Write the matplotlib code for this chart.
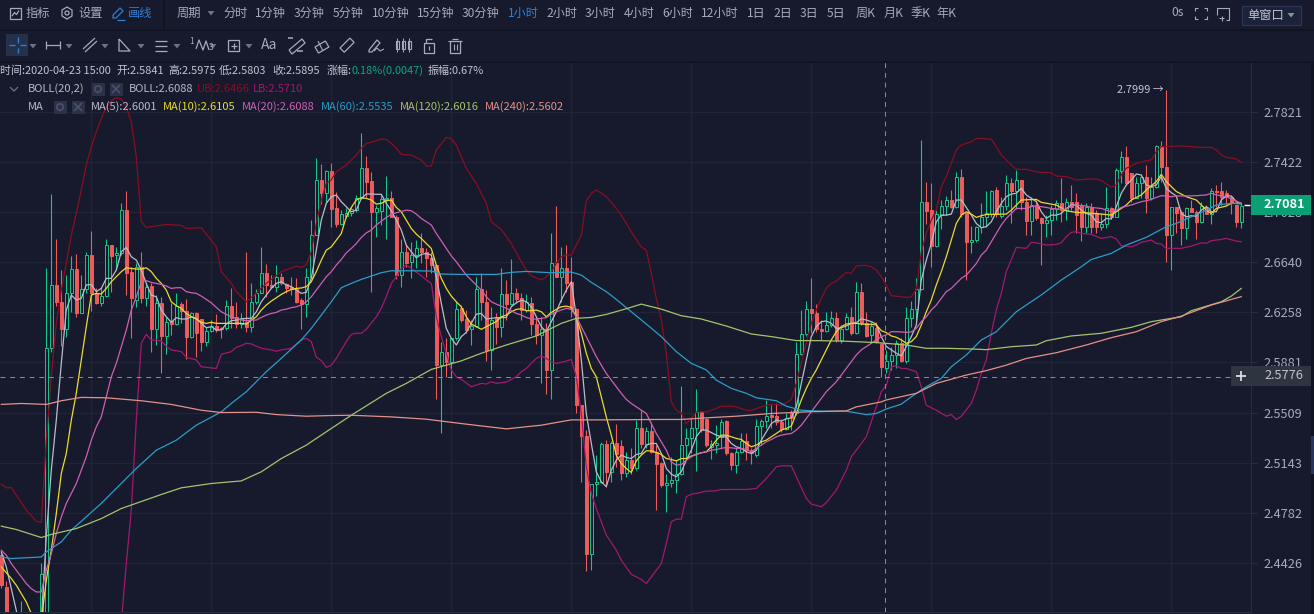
import matplotlib
matplotlib.use('Agg')
import matplotlib.pyplot as plt
from matplotlib.patches import Rectangle, Polygon, Circle

plt.rcParams['font.family'] = ['Noto Sans CJK SC', 'DejaVu Sans']

# candles, one hourly bar per entry
opens = [2.4478,2.4252,2.3900,2.3800,2.3950,2.3800,2.3700,2.3650,2.3900,2.3950,
2.5987,2.6467,2.6339,2.6130,2.6403,2.6586,2.6255,2.6433,2.6697,2.6403,
2.6331,2.6385,2.6773,2.6694,2.6709,2.7046,2.6569,2.6352,2.6607,2.6370,
2.6459,2.6132,2.6327,2.6080,2.6193,2.6170,2.6321,2.6271,2.6075,2.6255,
2.6205,2.6037,2.6117,2.6155,2.6137,2.6137,2.6309,2.6225,2.6170,2.6188,
2.6145,2.6334,2.6408,2.6556,2.6467,2.6454,2.6530,2.6471,2.6454,2.6436,
2.6352,2.6319,2.6525,2.6856,2.7283,2.7183,2.7354,2.7060,2.6937,2.7002,
2.7020,2.7046,2.7138,2.7375,2.7275,2.7033,2.7041,2.7130,2.7138,2.6994,
2.6543,2.6717,2.6645,2.6697,2.6755,2.6723,2.6671,2.6620,2.5861,2.5957,
2.5886,2.6062,2.6289,2.6208,2.6132,2.6155,2.6433,2.6339,2.5975,2.6213,
2.6150,2.6398,2.6321,2.6403,2.6365,2.6276,2.6331,2.6168,2.6087,2.6130,
2.5825,2.6632,2.6530,2.6594,2.6492,2.6281,2.5561,2.5338,2.4490,2.4984,
2.5003,2.5277,2.5076,2.5282,2.5262,2.5068,2.5165,2.5104,2.5392,2.5277,
2.5375,2.5221,2.5141,2.4980,2.4996,2.5020,2.5059,2.5270,2.5319,2.5392,
2.5514,2.5465,2.5258,2.5270,2.5331,2.5446,2.5209,2.5124,2.5221,2.5301,
2.5233,2.5197,2.5409,2.5448,2.5489,2.5482,2.5441,2.5385,2.5514,2.5502,
2.5945,2.6092,2.6281,2.6255,2.6132,2.6120,2.6163,2.6213,2.6050,2.6130,
2.6225,2.6100,2.6411,2.6175,2.6087,2.6137,2.6020,2.5841,2.5893,2.5940,
2.6030,2.5893,2.6213,2.6281,2.6433,2.7107,2.7046,2.6765,2.7007,2.7080,
2.7125,2.7067,2.7309,2.7025,2.6799,2.6817,2.6916,2.6994,2.7015,2.7204,
2.6999,2.7078,2.7257,2.7199,2.7283,2.7112,2.6963,2.7086,2.6981,2.6942,
2.6968,2.7052,2.7099,2.7046,2.7107,2.7107,2.7086,2.6911,2.7073,2.7020,
2.6916,2.6937,2.7059,2.6994,2.7356,2.7462,2.7335,2.7138,2.7257,2.7304,
2.7138,2.7225,2.7552,2.7383,2.6851,2.7067,2.7033,2.6903,2.7059,2.7033,
2.6955,2.7073,2.7015,2.7199,2.7192,2.7183,2.7151,2.7086,2.6955]
closes = [2.4267,2.4050,2.3800,2.3700,2.4050,2.3700,2.3650,2.3800,2.4343,2.5987,
2.6467,2.6339,2.6130,2.6403,2.6586,2.6255,2.6433,2.6697,2.6403,2.6331,
2.6385,2.6773,2.6689,2.6709,2.7046,2.6561,2.6370,2.6607,2.6370,2.6454,
2.6132,2.6331,2.6080,2.6188,2.6170,2.6309,2.6271,2.6075,2.6255,2.6100,
2.6037,2.6117,2.6155,2.6125,2.6130,2.6309,2.6213,2.6170,2.6213,2.6145,
2.6334,2.6408,2.6556,2.6467,2.6454,2.6530,2.6479,2.6441,2.6433,2.6339,
2.6319,2.6525,2.6856,2.7283,2.7183,2.7356,2.7057,2.6937,2.7012,2.7020,
2.7052,2.7138,2.7375,2.7269,2.7033,2.7060,2.7130,2.7138,2.6994,2.6543,
2.6717,2.6637,2.6697,2.6755,2.6723,2.6671,2.6620,2.5861,2.5957,2.5881,
2.6062,2.6281,2.6200,2.6125,2.6155,2.6433,2.6339,2.5975,2.6200,2.6150,
2.6398,2.6321,2.6403,2.6357,2.6276,2.6339,2.6168,2.6087,2.6130,2.5825,
2.6632,2.6530,2.6594,2.6484,2.6281,2.5561,2.5338,2.4490,2.4986,2.5003,
2.5277,2.5076,2.5282,2.5202,2.5068,2.5165,2.5104,2.5392,2.5277,2.5375,
2.5221,2.5136,2.4980,2.4996,2.5020,2.5059,2.5270,2.5319,2.5392,2.5514,
2.5380,2.5270,2.5277,2.5282,2.5441,2.5209,2.5124,2.5221,2.5301,2.5233,
2.5209,2.5409,2.5448,2.5485,2.5477,2.5441,2.5385,2.5470,2.5472,2.5945,
2.6092,2.6281,2.6255,2.6130,2.6120,2.6163,2.6213,2.6050,2.6130,2.6225,
2.6100,2.6411,2.6175,2.6080,2.6155,2.6037,2.5849,2.5895,2.5940,2.6030,
2.5893,2.6213,2.6281,2.6433,2.7107,2.7041,2.6765,2.7012,2.7080,2.7125,
2.7067,2.7309,2.7012,2.6799,2.6817,2.6916,2.6989,2.7020,2.7199,2.7015,
2.7078,2.7257,2.7199,2.7283,2.7112,2.6963,2.7086,2.6981,2.6942,2.6968,
2.7052,2.7099,2.7046,2.7107,2.7073,2.7007,2.6911,2.7073,2.6916,2.6916,
2.6937,2.7059,2.6994,2.7362,2.7462,2.7257,2.7138,2.7257,2.7304,2.7138,
2.7230,2.7552,2.7383,2.6851,2.7067,2.7025,2.6903,2.7059,2.7033,2.6955,
2.7078,2.7015,2.7192,2.7186,2.7151,2.7151,2.7099,2.6955,2.7081]
highs = [2.4499,2.4300,2.3950,2.3850,2.4155,2.3850,2.3750,2.3850,2.4421,2.6597,
2.7172,2.6825,2.6581,2.6543,2.6689,2.6702,2.6543,2.6723,2.6883,2.6441,
2.6441,2.6820,2.6773,2.6760,2.7104,2.7196,2.6607,2.6632,2.6717,2.6479,
2.6479,2.6390,2.6377,2.6225,2.6327,2.6403,2.6339,2.6357,2.6263,2.6263,
2.6208,2.6150,2.6200,2.6245,2.6150,2.6352,2.6441,2.6339,2.6255,2.6723,
2.6479,2.6433,2.6760,2.6625,2.6543,2.6620,2.6561,2.6479,2.6525,2.6518,
2.6365,2.6594,2.6968,2.7454,2.7406,2.7362,2.7419,2.7191,2.7046,2.7060,
2.7073,2.7164,2.7652,2.7472,2.7348,2.7086,2.7164,2.7314,2.7196,2.7007,
2.6820,2.6786,2.6799,2.6812,2.6864,2.6748,2.6723,2.6620,2.6037,2.6062,
2.6062,2.6339,2.6314,2.6276,2.6200,2.6525,2.6556,2.6428,2.6301,2.6250,
2.6594,2.6505,2.6666,2.6446,2.6403,2.6395,2.6377,2.6213,2.6225,2.6175,
2.6864,2.7078,2.6760,2.6773,2.6684,2.6289,2.5563,2.5380,2.4991,2.5197,
2.5294,2.5311,2.5301,2.5424,2.5306,2.5221,2.5246,2.5453,2.5531,2.5404,
2.5441,2.5270,2.5148,2.5063,2.5185,2.5160,2.5705,2.5392,2.5477,2.5680,
2.5519,2.5472,2.5306,2.5416,2.5465,2.5453,2.5221,2.5246,2.5355,2.5355,
2.5246,2.5465,2.5465,2.5601,2.5563,2.5576,2.5465,2.5502,2.5526,2.6037,
2.6276,2.6345,2.6522,2.6319,2.6200,2.6263,2.6271,2.6263,2.6163,2.6250,
2.6301,2.6492,2.6479,2.6263,2.6188,2.6188,2.6037,2.5975,2.5995,2.6050,
2.6062,2.6296,2.6347,2.6518,2.7599,2.7264,2.7256,2.7046,2.7125,2.7157,
2.7204,2.7348,2.7367,2.7033,2.6922,2.6922,2.7099,2.7192,2.7204,2.7230,
2.7151,2.7322,2.7296,2.7362,2.7283,2.7151,2.7151,2.7125,2.6994,2.7007,
2.7086,2.7125,2.7296,2.7138,2.7243,2.7183,2.7099,2.7099,2.7099,2.7046,
2.7020,2.7230,2.7073,2.7375,2.7512,2.7552,2.7335,2.7309,2.7314,2.7401,
2.7309,2.7560,2.7595,2.7999,2.7073,2.7073,2.7046,2.7073,2.7125,2.7046,
2.7107,2.7086,2.7217,2.7243,2.7270,2.7204,2.7157,2.7086,2.7099]
lows = [2.4245,2.4000,2.3700,2.3650,2.3900,2.3650,2.3600,2.3600,2.3850,2.3900,
2.5960,2.6306,2.6005,2.6075,2.6263,2.6225,2.6255,2.6403,2.6271,2.6321,
2.6306,2.6377,2.6416,2.6581,2.6697,2.6390,2.6062,2.6301,2.6327,2.6306,
2.5957,2.6012,2.5804,2.5945,2.6087,2.6163,2.6175,2.5905,2.6062,2.5920,
2.5970,2.6005,2.6110,2.6112,2.6062,2.6125,2.6137,2.6137,2.6137,2.6112,
2.6112,2.6321,2.6403,2.6377,2.6446,2.6416,2.6467,2.6403,2.6390,2.6331,
2.6130,2.6225,2.6518,2.6851,2.7093,2.7104,2.6911,2.6911,2.6930,2.6981,
2.7000,2.7033,2.7130,2.7151,2.6416,2.6833,2.6930,2.6825,2.6994,2.6510,
2.6454,2.6607,2.6522,2.6594,2.6632,2.6525,2.6556,2.5606,2.5355,2.5774,
2.5762,2.6050,2.6188,2.6100,2.6012,2.6150,2.6200,2.5895,2.5825,2.6020,
2.6075,2.6200,2.6314,2.6331,2.6200,2.6263,2.6087,2.6020,2.5725,2.5645,
2.5606,2.6525,2.6339,2.6416,2.6225,2.5507,2.5003,2.4367,2.4377,2.4900,
2.4996,2.4968,2.5003,2.5112,2.5020,2.5035,2.5059,2.5092,2.5246,2.5246,
2.5209,2.4803,2.4963,2.4787,2.4963,2.4924,2.5051,2.5172,2.5209,2.5083,
2.5367,2.5258,2.5172,2.5209,2.5246,2.5197,2.5088,2.5068,2.5209,2.5160,
2.5131,2.5180,2.5270,2.5392,2.5392,2.5416,2.5367,2.5380,2.5380,2.5489,
2.5937,2.6080,2.6100,2.6112,2.6050,2.6112,2.6150,2.6037,2.6030,2.6125,
2.6087,2.6095,2.6163,2.6075,2.6025,2.6025,2.5769,2.5803,2.5825,2.5836,
2.5886,2.5878,2.6150,2.6200,2.6428,2.6937,2.6607,2.6760,2.6896,2.7007,
2.7060,2.7060,2.6994,2.6505,2.6714,2.6799,2.6864,2.6917,2.6994,2.6994,
2.6981,2.7046,2.6942,2.7052,2.7046,2.6851,2.6851,2.6968,2.6620,2.6838,
2.6851,2.6968,2.6955,2.6968,2.7046,2.6864,2.6805,2.6864,2.6864,2.6864,
2.6890,2.6903,2.6994,2.6994,2.7257,2.7243,2.7112,2.7138,2.7138,2.7020,
2.7125,2.7217,2.7270,2.6640,2.6581,2.6864,2.6774,2.6825,2.7033,2.6820,
2.6942,2.7015,2.6937,2.7073,2.7086,2.7086,2.7015,2.6911,2.6908]

# bollinger bands and moving averages, read at the bars listed in *_idx
ub_idx = [0,1,2,5,7,8,9,10,11,12,13,14,15,16,17,18,19,20,21,22,23,24,25,26,27,28,29,33,36,37,40,43,44,46,47,49,51,53,56,59,60,61,62,63,64,65,66,67,69,71,72,73,75,76,77,78,79,80,82,84,85,86,87,89,90,91,92,93,95,97,98,100,102,104,105,106,108,109,110,111,112,113,114,115,116,117,118,119,121,123,124,126,128,129,130,131,132,133,134,135,136,137,138,139,141,143,144,146,147,149,150,152,154,156,157,158,159,160,161,162,163,164,165,166,167,168,169,170,171,172,173,174,175,176,177,178,180,181,182,183,184,185,186,187,188,189,190,191,192,193,194,195,196,197,198,199,200,201,202,203,205,207,208,209,210,211,213,215,217,219,220,222,223,224,225,227,229,230,231,232,236,240,242,243,244,245,247,248]
ub_val = [2.4986,2.4960,2.4962,2.4799,2.4720,2.4711,2.5306,2.5774,2.6175,2.6428,2.6632,2.6851,2.7020,2.7204,2.7401,2.7546,2.7665,2.7770,2.7863,2.7916,2.7939,2.7929,2.7863,2.7744,2.7467,2.6955,2.6911,2.6934,2.6927,2.6903,2.6909,2.6760,2.6569,2.6479,2.6416,2.6339,2.6403,2.6479,2.6569,2.6612,2.6602,2.6620,2.6723,2.6942,2.7125,2.7256,2.7283,2.7348,2.7401,2.7480,2.7533,2.7572,2.7594,2.7607,2.7604,2.7572,2.7533,2.7485,2.7480,2.7440,2.7393,2.7393,2.7520,2.7620,2.7612,2.7559,2.7467,2.7375,2.7256,2.7099,2.6955,2.6895,2.6786,2.6645,2.6581,2.6538,2.6505,2.6530,2.6569,2.6632,2.6684,2.6697,2.6697,2.6773,2.6851,2.7117,2.7177,2.7204,2.7151,2.7060,2.7007,2.6877,2.6760,2.6735,2.6556,2.6365,2.6200,2.5950,2.5588,2.5526,2.5507,2.5428,2.5465,2.5514,2.5514,2.5539,2.5556,2.5556,2.5551,2.5526,2.5524,2.5551,2.5571,2.5563,2.5581,2.5606,2.5725,2.5874,2.6025,2.6175,2.6276,2.6365,2.6441,2.6479,2.6497,2.6530,2.6564,2.6556,2.6612,2.6617,2.6617,2.6607,2.6581,2.6530,2.6466,2.6385,2.6377,2.6372,2.6377,2.6433,2.6723,2.6864,2.6968,2.7046,2.7230,2.7309,2.7414,2.7520,2.7559,2.7572,2.7586,2.7612,2.7612,2.7608,2.7606,2.7547,2.7481,2.7441,2.7401,2.7367,2.7367,2.7348,2.7343,2.7343,2.7340,2.7314,2.7309,2.7283,2.7288,2.7291,2.7278,2.7225,2.7243,2.7322,2.7375,2.7414,2.7435,2.7441,2.7507,2.7547,2.7552,2.7541,2.7541,2.7520,2.7481,2.7462,2.7449,2.7422]
lb_idx = [24,25,26,27,28,29,30,32,33,34,36,37,39,40,43,44,46,47,48,49,50,52,54,55,56,58,60,61,62,63,64,65,66,67,69,70,71,72,73,75,76,77,78,79,80,81,82,84,85,86,87,88,89,90,91,92,94,96,97,98,99,101,103,104,105,106,107,108,109,110,111,113,114,115,116,117,118,119,120,121,123,124,126,128,129,131,132,133,134,135,136,137,138,139,141,143,144,149,151,152,153,155,156,158,159,161,162,164,165,167,169,170,171,173,174,175,176,177,178,179,180,181,183,184,185,187,189,190,191,192,194,195,196,197,198,199,200,201,203,205,206,207,209,211,212,213,214,215,216,218,220,222,223,224,226,227,228,230,231,232,233,236,238,240,241,242,244,245,247,248]
lb_val = [2.4000,2.4419,2.4799,2.5453,2.6025,2.6092,2.6050,2.6042,2.6000,2.5975,2.5962,2.5920,2.5900,2.5849,2.5836,2.5942,2.5962,2.5995,2.6007,2.6025,2.6020,2.5987,2.5975,2.5965,2.5975,2.5987,2.6050,2.6062,2.6037,2.5920,2.5895,2.5844,2.5861,2.5912,2.6037,2.6092,2.6100,2.6100,2.6130,2.6225,2.6289,2.6377,2.6479,2.6530,2.6594,2.6620,2.6594,2.6538,2.6505,2.6479,2.6225,2.6075,2.5950,2.5825,2.5774,2.5755,2.5700,2.5725,2.5720,2.5737,2.5725,2.5735,2.5774,2.5812,2.5836,2.5874,2.5912,2.5930,2.5910,2.5886,2.5874,2.5891,2.5904,2.5774,2.5502,2.5112,2.4920,2.4811,2.4716,2.4621,2.4514,2.4443,2.4344,2.4307,2.4279,2.4372,2.4419,2.4561,2.4716,2.4735,2.4735,2.4896,2.4914,2.4920,2.4936,2.4939,2.4948,2.4948,2.4955,2.4991,2.5027,2.5112,2.5119,2.5119,2.5040,2.4884,2.4843,2.4824,2.4853,2.4943,2.5088,2.5185,2.5233,2.5331,2.5441,2.5551,2.5663,2.5710,2.5849,2.5856,2.5836,2.5836,2.5812,2.5700,2.5563,2.5526,2.5482,2.5494,2.5458,2.5482,2.5576,2.5675,2.5799,2.5900,2.6100,2.6276,2.6403,2.6569,2.6756,2.6749,2.6795,2.6792,2.6774,2.6779,2.6792,2.6839,2.6873,2.6878,2.6865,2.6857,2.6826,2.6839,2.6821,2.6769,2.6761,2.6774,2.6795,2.6813,2.6787,2.6782,2.6749,2.6749,2.6766,2.6792,2.6787,2.6808,2.6818,2.6826,2.6805,2.6800]
ma5_idx = [0,1,3,4,5,6,7,8,9,10,11,12,13,14,15,16,17,18,19,20,21,22,23,24,25,26,27,28,29,30,31,32,33,34,35,36,37,38,39,40,41,42,43,44,45,46,47,48,49,50,51,52,53,54,55,56,57,58,59,60,61,62,63,64,65,66,67,68,69,70,71,72,73,74,75,76,77,78,79,80,81,82,83,84,85,86,87,88,89,90,91,92,93,94,95,96,97,98,99,100,101,102,103,104,105,106,107,108,109,110,111,112,113,114,115,116,117,118,119,120,121,122,123,124,125,126,127,128,129,130,131,132,133,134,135,136,137,138,139,140,141,142,143,144,145,146,147,148,149,150,151,152,153,154,155,156,157,158,159,160,161,162,163,164,165,166,167,168,169,170,171,172,173,174,175,176,177,178,179,180,181,182,183,184,185,186,187,188,189,190,191,192,193,194,195,196,197,198,199,200,201,202,203,204,205,206,207,208,209,210,211,212,213,214,215,216,217,218,219,220,221,222,223,224,225,226,227,228,229,230,231,232,233,234,235,236,237,238,239,240,241,242,243,244,245,246,247,248]
ma5_val = [2.4502,2.4396,2.4091,2.3880,2.3694,2.3600,2.3647,2.4021,2.4609,2.5088,2.5453,2.5874,2.6276,2.6390,2.6352,2.6365,2.6467,2.6471,2.6416,2.6441,2.6518,2.6518,2.6581,2.6723,2.6755,2.6684,2.6658,2.6581,2.6479,2.6390,2.6377,2.6276,2.6225,2.6183,2.6218,2.6208,2.6208,2.6225,2.6213,2.6175,2.6142,2.6150,2.6125,2.6125,2.6170,2.6195,2.6200,2.6208,2.6213,2.6213,2.6263,2.6339,2.6390,2.6441,2.6479,2.6492,2.6467,2.6454,2.6428,2.6403,2.6411,2.6518,2.6735,2.6968,2.7099,2.7151,2.7164,2.7112,2.7073,2.7033,2.7046,2.7138,2.7172,2.7172,2.7170,2.7170,2.7099,2.7041,2.6968,2.6890,2.6773,2.6723,2.6676,2.6702,2.6709,2.6697,2.6530,2.6327,2.6137,2.6062,2.6012,2.6075,2.6107,2.6175,2.6245,2.6250,2.6208,2.6213,2.6218,2.6218,2.6220,2.6301,2.6331,2.6352,2.6339,2.6301,2.6225,2.6150,2.6112,2.6188,2.6263,2.6352,2.6428,2.6492,2.6225,2.5900,2.5502,2.5282,2.5076,2.5003,2.4968,2.5088,2.5160,2.5197,2.5180,2.5172,2.5202,2.5209,2.5270,2.5282,2.5282,2.5209,2.5100,2.5059,2.5040,2.5076,2.5160,2.5233,2.5331,2.5380,2.5380,2.5362,2.5343,2.5331,2.5331,2.5282,2.5258,2.5246,2.5221,2.5209,2.5233,2.5306,2.5367,2.5428,2.5453,2.5446,2.5463,2.5470,2.5551,2.5725,2.5900,2.6075,2.6150,2.6188,2.6193,2.6175,2.6137,2.6142,2.6155,2.6175,2.6180,2.6210,2.6200,2.6188,2.6170,2.6075,2.6001,2.5975,2.5950,2.5930,2.6000,2.6075,2.6163,2.6505,2.6658,2.6786,2.6955,2.7007,2.7007,2.7015,2.7125,2.7125,2.7067,2.7007,2.6942,2.6909,2.6917,2.6955,2.7033,2.7099,2.7151,2.7172,2.7178,2.7217,2.7165,2.7138,2.7112,2.7033,2.6981,2.7007,2.7007,2.7020,2.7059,2.7086,2.7086,2.7046,2.7020,2.7007,2.6955,2.6948,2.6981,2.6976,2.7073,2.7178,2.7243,2.7283,2.7330,2.7322,2.7243,2.7230,2.7243,2.7309,2.7217,2.7183,2.7157,2.7020,2.6994,2.7002,2.6999,2.7046,2.7073,2.7033,2.7033,2.7125,2.7157,2.7157,2.7112,2.7094]
ma10_idx = [0,2,3,5,6,7,8,9,10,11,12,13,14,15,16,17,18,19,20,21,22,23,24,25,26,27,28,29,30,31,32,33,34,35,36,37,38,39,40,41,42,43,47,48,49,50,51,52,53,54,55,56,57,58,59,60,61,62,63,64,65,66,68,69,70,71,72,73,74,75,76,77,78,79,80,81,82,83,84,85,86,87,88,89,90,91,92,93,94,95,96,97,98,99,100,101,102,103,104,105,106,107,108,109,110,111,112,113,114,115,116,117,118,119,120,121,122,123,124,125,126,127,128,129,130,131,132,133,134,135,136,137,138,139,140,141,142,143,144,145,146,147,148,149,150,151,152,153,154,155,156,157,158,159,160,161,162,163,164,165,166,167,168,169,170,171,172,173,174,175,176,177,178,179,180,181,182,183,184,185,186,187,188,189,190,191,192,193,194,195,196,197,201,202,203,204,207,208,211,213,215,217,220,222,223,225,226,228,229,231,232,233,235,237,239,241,242,243,245,246,248]
ma10_val = [2.4396,2.4314,2.4267,2.4150,2.4068,2.3998,2.4021,2.4302,2.4514,2.4775,2.5064,2.5209,2.5453,2.5651,2.5900,2.6150,2.6390,2.6403,2.6398,2.6441,2.6492,2.6530,2.6569,2.6599,2.6594,2.6589,2.6589,2.6599,2.6569,2.6518,2.6479,2.6428,2.6339,2.6309,2.6289,2.6250,2.6225,2.6208,2.6183,2.6175,2.6183,2.6175,2.6175,2.6175,2.6170,2.6200,2.6225,2.6276,2.6314,2.6344,2.6370,2.6395,2.6416,2.6433,2.6441,2.6444,2.6454,2.6492,2.6569,2.6658,2.6735,2.6760,2.6864,2.6994,2.7067,2.7125,2.7143,2.7138,2.7125,2.7093,2.7099,2.7120,2.7125,2.7067,2.7033,2.6968,2.6903,2.6859,2.6825,2.6786,2.6748,2.6620,2.6518,2.6441,2.6382,2.6339,2.6301,2.6225,2.6170,2.6150,2.6130,2.6150,2.6170,2.6188,2.6225,2.6238,2.6263,2.6281,2.6286,2.6271,2.6271,2.6276,2.6263,2.6225,2.6258,2.6281,2.6301,2.6306,2.6296,2.6225,2.6100,2.5950,2.5836,2.5774,2.5625,2.5477,2.5343,2.5197,2.5136,2.5100,2.5071,2.5155,2.5197,2.5228,2.5228,2.5216,2.5202,2.5172,2.5165,2.5155,2.5172,2.5172,2.5190,2.5202,2.5214,2.5221,2.5258,2.5306,2.5343,2.5343,2.5331,2.5319,2.5311,2.5282,2.5258,2.5270,2.5294,2.5306,2.5331,2.5355,2.5380,2.5392,2.5409,2.5502,2.5601,2.5688,2.5762,2.5825,2.5900,2.5975,2.6050,2.6112,2.6150,2.6170,2.6175,2.6175,2.6170,2.6168,2.6168,2.6163,2.6120,2.6105,2.6080,2.6070,2.6050,2.6025,2.6037,2.6075,2.6163,2.6263,2.6352,2.6467,2.6569,2.6684,2.6812,2.6942,2.7007,2.7033,2.7015,2.6989,2.7002,2.7012,2.7015,2.7046,2.7086,2.7125,2.7130,2.7107,2.7086,2.7041,2.7028,2.7025,2.7015,2.7007,2.7033,2.7086,2.7125,2.7165,2.7204,2.7270,2.7327,2.7270,2.7192,2.7151,2.7125,2.7046,2.7020,2.7059,2.7078,2.7099,2.7099]
ma20_idx = [0,1,2,3,4,5,6,7,8,9,10,11,12,13,14,15,16,17,18,19,20,21,22,23,24,25,26,27,28,29,30,31,32,33,34,35,36,37,38,39,40,41,42,43,44,45,46,47,48,49,50,51,52,53,54,55,56,57,58,59,60,61,62,63,64,65,66,67,68,69,70,71,72,73,74,75,76,77,78,79,80,81,82,83,84,85,86,87,88,89,90,91,92,93,94,95,96,97,98,99,100,101,102,103,104,105,106,107,108,109,110,111,112,113,114,115,116,117,118,119,120,121,122,123,124,125,126,127,128,129,130,131,132,133,134,135,136,137,138,139,140,141,142,143,144,145,146,147,148,149,150,151,152,153,154,155,156,157,158,159,160,161,162,163,164,165,166,167,168,169,170,171,172,173,174,175,176,177,178,179,180,181,182,183,184,185,186,187,188,189,190,191,192,193,194,195,196,197,198,199,200,201,202,203,205,206,207,208,209,210,212,213,214,215,216,217,218,220,222,223,224,226,227,228,229,230,231,232,233,234,235,237,239,241,242,243,245,247,248]
ma20_val = [2.4514,2.4478,2.4419,2.4372,2.4325,2.4279,2.4243,2.4220,2.4220,2.4372,2.4490,2.4633,2.4751,2.4848,2.4920,2.4991,2.5088,2.5185,2.5306,2.5404,2.5477,2.5625,2.5774,2.5874,2.6000,2.6125,2.6276,2.6377,2.6492,2.6500,2.6487,2.6479,2.6471,2.6459,2.6441,2.6446,2.6446,2.6416,2.6408,2.6403,2.6382,2.6357,2.6331,2.6296,2.6263,2.6243,2.6225,2.6213,2.6200,2.6195,2.6200,2.6200,2.6220,2.6238,2.6250,2.6258,2.6276,2.6283,2.6294,2.6301,2.6314,2.6339,2.6377,2.6428,2.6479,2.6530,2.6569,2.6620,2.6663,2.6714,2.6748,2.6786,2.6833,2.6869,2.6890,2.6930,2.6960,2.6989,2.7012,2.7025,2.7036,2.7046,2.7041,2.7015,2.6981,2.6955,2.6930,2.6864,2.6807,2.6748,2.6691,2.6645,2.6594,2.6543,2.6505,2.6467,2.6428,2.6377,2.6339,2.6321,2.6306,2.6289,2.6271,2.6250,2.6238,2.6220,2.6208,2.6208,2.6213,2.6218,2.6245,2.6263,2.6276,2.6289,2.6281,2.6225,2.6150,2.6075,2.6000,2.5925,2.5861,2.5799,2.5749,2.5700,2.5651,2.5606,2.5576,2.5551,2.5526,2.5502,2.5428,2.5355,2.5294,2.5233,2.5148,2.5124,2.5129,2.5160,2.5185,2.5204,2.5214,2.5221,2.5233,2.5238,2.5246,2.5253,2.5250,2.5246,2.5246,2.5238,2.5221,2.5246,2.5270,2.5294,2.5311,2.5331,2.5343,2.5350,2.5355,2.5380,2.5416,2.5465,2.5514,2.5563,2.5613,2.5663,2.5700,2.5737,2.5787,2.5836,2.5886,2.5937,2.5975,2.6000,2.6025,2.6050,2.6075,2.6088,2.6112,2.6112,2.6110,2.6107,2.6110,2.6137,2.6188,2.6225,2.6276,2.6314,2.6365,2.6416,2.6441,2.6479,2.6518,2.6543,2.6586,2.6632,2.6697,2.6735,2.6800,2.6865,2.6930,2.6981,2.7020,2.7059,2.7059,2.7073,2.7078,2.7073,2.7067,2.7059,2.7052,2.7052,2.7078,2.7086,2.7081,2.7078,2.7067,2.7059,2.7033,2.7046,2.7067,2.7086,2.7099,2.7112,2.7120,2.7130,2.7146,2.7159,2.7157,2.7151,2.7157,2.7157,2.7159,2.7165,2.7178,2.7165,2.7151,2.7117,2.7099]
ma60_idx = [0,2,8,9,12,14,20,27,31,35,39,44,46,49,53,56,60,62,66,68,70,72,76,78,82,86,88,92,99,102,105,110,114,116,118,121,123,126,129,132,135,138,141,143,146,149,151,155,157,160,164,169,173,175,177,180,182,185,188,190,193,196,197,199,203,208,212,216,218,222,225,229,233,235,238,241,243,246,248]
ma60_val = [2.4466,2.4455,2.4466,2.4502,2.4573,2.4656,2.4848,2.5100,2.5233,2.5306,2.5416,2.5514,2.5576,2.5663,2.5812,2.5912,2.6050,2.6137,2.6339,2.6446,2.6479,2.6510,2.6561,2.6576,2.6576,2.6574,2.6551,2.6548,2.6548,2.6564,2.6571,2.6561,2.6566,2.6543,2.6487,2.6416,2.6357,2.6263,2.6170,2.6075,2.5962,2.5874,2.5825,2.5749,2.5688,2.5651,2.5618,2.5596,2.5556,2.5526,2.5519,2.5519,2.5494,2.5502,2.5535,2.5571,2.5625,2.5700,2.5762,2.5849,2.5937,2.6050,2.6070,2.6112,2.6263,2.6391,2.6505,2.6607,2.6663,2.6710,2.6774,2.6834,2.6917,2.6942,2.6994,2.7046,2.7086,2.7099,2.7094]
ma120_idx = [0,3,8,10,15,20,24,32,36,42,48,52,56,61,66,70,77,81,86,92,96,101,107,112,115,118,121,125,128,132,136,140,145,150,154,159,163,169,175,181,185,189,194,197,202,207,209,214,220,226,230,236,238,244,246,248]
ma120_val = [2.4685,2.4661,2.4604,2.4626,2.4668,2.4739,2.4811,2.4912,2.4960,2.4991,2.5010,2.5076,2.5172,2.5270,2.5392,2.5489,2.5651,2.5725,2.5829,2.5893,2.5950,2.6012,2.6080,2.6175,2.6213,2.6220,2.6243,2.6286,2.6321,2.6283,2.6233,2.6208,2.6155,2.6095,2.6075,2.6045,2.6045,2.6040,2.6030,2.6012,2.5987,2.5987,2.5982,2.5977,2.5999,2.6012,2.6044,2.6080,2.6100,2.6145,2.6188,2.6225,2.6271,2.6339,2.6382,2.6441]
ma240_idx = [0,4,9,12,16,21,28,34,40,44,51,55,61,66,70,78,85,92,101,108,114,119,132,136,141,147,154,161,169,171,176,177,183,187,193,197,201,205,211,217,222,227,232,236,242,248]
ma240_val = [2.5569,2.5576,2.5569,2.5596,2.5621,2.5618,2.5596,2.5569,2.5526,2.5509,2.5511,2.5494,2.5482,2.5487,2.5489,2.5477,2.5460,2.5428,2.5389,2.5416,2.5455,2.5455,2.5458,2.5458,2.5470,2.5482,2.5502,2.5514,2.5521,2.5551,2.5588,2.5602,2.5651,2.5725,2.5787,2.5820,2.5861,2.5911,2.5954,2.6012,2.6067,2.6112,2.6188,2.6230,2.6314,2.6378]

price_ticks = [2.7821, 2.7422, 2.7028, 2.6640, 2.6258, 2.5881, 2.5509, 2.5143, 2.4782, 2.4426]
grid_bars = [18, 42, 66, 90, 114, 138, 162, 186, 210, 234]
cross_bar = 176.8
cross_price = 2.5776
last_price = 2.7081
peak_price = 2.7999

periods = ['分时', '1分钟', '3分钟', '5分钟', '10分钟', '15分钟', '30分钟', '1小时', '2小时', '3小时', '4小时', '6小时',
           '12小时', '1日', '2日', '3日', '5日', '周K', '月K', '季K', '年K']
period_x = [223, 255, 294, 333, 372, 417, 462, 508, 546, 585, 624, 662, 701, 747, 773, 800, 827, 856, 884, 911, 936]

BG = '#161a2c'
DARK = '#0f1220'
LINE = '#262c42'
GRID = '#1f2438'
TEXT = '#a5aabf'
BLUE = '#2f7fd6'
UP = '#10c88a'
DOWN = '#ef5b5b'
UB_C, LB_C = '#8b0d22', '#a3186f'
MA_C = ['#b9bccb', '#eadb2c', '#cf5fb4', '#2b9dc9', '#a3c46c', '#e5908a']

W, H = 1314, 614
fig = plt.figure(figsize=(W / 100, H / 100), dpi=100, facecolor=BG)

# price panel
ax = fig.add_axes([0, 1 - 612 / H, 1251.3 / W, 550 / H], facecolor=BG, zorder=1)
ax.set_yscale('log')
ax.set_xlim(-0.26, 250)
ax.set_ylim(2.4080, 2.8229)
ax.set_yticks(price_ticks)
ax.set_yticklabels([f'{p:.4f}' for p in price_ticks])
ax.minorticks_off()
ax.yaxis.tick_right()
ax.tick_params(axis='y', length=4.3, width=0.8, color=LINE, labelcolor=TEXT, labelsize=9.2, pad=4.5)
ax.set_xticks(grid_bars)
ax.tick_params(axis='x', length=0, labelbottom=False)
ax.grid(True, color=GRID, lw=0.9)
ax.set_axisbelow(True)
for s in ['top', 'left']:
    ax.spines[s].set_visible(False)
ax.spines['right'].set_color(LINE)
ax.spines['bottom'].set_color(LINE)

bars = list(range(len(opens)))
colors = [UP if c >= o else DOWN for o, c in zip(opens, closes)]
ax.vlines(bars, lows, highs, colors=colors, lw=0.8, zorder=2)
tops = [max(o, c) for o, c in zip(opens, closes)]
bots = [min(o, c) for o, c in zip(opens, closes)]
faces = [BG if c >= o else DOWN for o, c in zip(opens, closes)]
ax.bar(bars, [t - b for t, b in zip(tops, bots)], bottom=bots, width=0.5,
       facecolor=faces, edgecolor=colors, lw=0.7, zorder=3)

ax.plot(ub_idx, ub_val, color=UB_C, lw=0.9, zorder=4)
ax.plot(lb_idx, lb_val, color=LB_C, lw=0.9, zorder=4)
for idx, val, col in zip([ma5_idx, ma10_idx, ma20_idx, ma60_idx, ma120_idx, ma240_idx],
                         [ma5_val, ma10_val, ma20_val, ma60_val, ma120_val, ma240_val], MA_C):
    ax.plot(idx, val, color=col, lw=0.9, zorder=5)

ax.axvline(cross_bar, color='#8a8fa3', lw=0.7, dashes=(5, 5), zorder=6)
ax.axhline(cross_price, color='#8a8fa3', lw=0.7, dashes=(5, 5), zorder=6)
ax.annotate(f'{peak_price:.4f} →', (233, peak_price), xytext=(-2, 0), textcoords='offset points',
            ha='right', va='center', color='#c3c7d6', fontsize=7.8, zorder=7)

# toolbars and overlays, drawn in pixel coordinates
ui = fig.add_axes([0, 0, 1, 1], zorder=2)
ui.set_xlim(0, W)
ui.set_ylim(H, 0)
ui.axis('off')
ui.patch.set_alpha(0)


def rect(x0, y0, x1, y1, fc, ec='none', lw=0.0, z=1):
    ui.add_patch(Rectangle((x0, y0), x1 - x0, y1 - y0, fc=fc, ec=ec, lw=lw, zorder=z))


def seg(xs, ys, col=TEXT, lw=0.9, z=3):
    ui.plot(xs, ys, color=col, lw=lw, zorder=z, solid_capstyle='butt')


def txt(x, y, s, col=TEXT, size=8.8, **kw):
    ui.text(x, y, s, color=col, fontsize=size, va='center', ha=kw.pop('ha', 'left'), zorder=4, **kw)


def tri(x, y, col='#6d7388'):
    ui.add_patch(Polygon([(x - 3.5, y - 2), (x + 3.5, y - 2), (x, y + 2.5)], fc=col, ec='none', zorder=3))


rect(0, 0, W, 61, BG)
seg([0, W], [29.5, 29.5], DARK, 1.2)
seg([0, W], [61.5, 61.5], DARK, 1.2)
seg([163.5, 163.5], [0, 29], DARK, 1.2)
rect(1311, 62, W, H, DARK)
rect(1311, 436, W, 474, '#2a3358')

# first row
rect(10, 8, 21, 19, 'none', TEXT, 0.9)
seg([12, 14.5, 16.5, 19], [16, 12.5, 14.5, 10.5])
txt(26, 13, '指标')
ui.add_patch(Polygon([(67, 7), (72, 10), (72, 16), (67, 19), (62, 16), (62, 10)], fc='none', ec=TEXT, lw=0.9, zorder=3))
ui.add_patch(Circle((67, 13), 2, fc='none', ec=TEXT, lw=0.9, zorder=3))
txt(78, 13, '设置')
seg([113, 120, 123, 116, 113, 113], [15, 8, 11, 18, 18, 15], BLUE)
seg([117, 125], [20, 20], BLUE)
txt(128, 13, '画线', BLUE)
txt(177, 13, '周期')
tri(211, 13)
for x, label in zip(period_x, periods):
    txt(x, 13, label, BLUE if label == '1小时' else TEXT, 8.7)
txt(1171, 13, '0s', size=8.7)
for x0, y0, dx, dy in [(1195, 8, 1, 1), (1207, 8, -1, 1), (1195, 19, 1, -1), (1207, 19, -1, -1)]:
    seg([x0, x0, x0 + 3 * dx], [y0 + 3 * dy, y0, y0], lw=0.8)
seg([1217, 1217, 1229, 1229, 1226], [15, 8, 8, 20, 20], lw=0.8)
seg([1219, 1224], [18, 18], lw=0.8)
seg([1221.5, 1221.5], [15.5, 20.5], lw=0.8)
rect(1241.5, 5.5, 1300.5, 24.5, '#1c2238', '#2c3555', 0.9)
txt(1247, 15, '单窗口', '#c0c4d2', 8.8)
tri(1291, 15, '#8a90a5')

# second row
rect(6, 34, 28, 56, '#25304a')
seg([9, 15], [45, 45], BLUE, 1.0)
seg([20, 26], [45, 45], BLUE, 1.0)
seg([17.5, 17.5], [37, 42.5], BLUE, 1.0)
seg([17.5, 17.5], [47.5, 53], BLUE, 1.0)
for x in [33, 69, 105, 141, 177, 213, 249]:
    tri(x, 46)
seg([46, 60], [45, 45])
seg([46, 46], [41, 49])
seg([60, 60], [41, 49])
seg([83, 95], [49, 38])
seg([85, 97], [52, 41])
seg([119, 119, 130, 119], [39, 51, 51, 39])
for yy in [41, 46, 51]:
    seg([155, 167], [yy, yy])
seg([196, 199, 203, 206, 209], [49, 40, 50, 41, 50])
txt(189, 41, '1', size=6)
txt(209, 48, '3', size=6)
rect(228, 40, 239, 51, 'none', TEXT, 0.9)
seg([230.5, 236.5], [45.5, 45.5])
seg([233.5, 233.5], [42.5, 48.5])
txt(261, 45, 'Aa', size=10)
# drawing tools, rough small glyphs
seg([289, 302, 305, 292, 289], [50, 39, 43, 54, 50])
seg([288, 293], [38, 38], lw=1.1)
seg([297, 303], [51, 51], lw=1.1)
ui.add_patch(Rectangle((315, 47), 12, 7, angle=-30, fc='none', ec=TEXT, lw=0.9, zorder=3))
seg([318, 323], [41, 51], lw=0.8)
ui.add_patch(Rectangle((340, 48), 14, 6, angle=-45, fc='none', ec=TEXT, lw=0.9, zorder=3))
seg([369, 377, 380, 372, 369, 369], [50, 40, 43, 52, 52, 50])
seg([374, 377, 380, 384], [51, 48, 51, 49], lw=0.8)
for x in [397, 403, 409]:
    rect(x - 1.5, 41, x + 1.5, 49, 'none', TEXT, 0.8)
    seg([x, x], [38, 52], lw=0.7)
seg([424, 434, 434, 424, 424], [43, 43, 53, 53, 43])
seg([429, 429], [46, 50])
seg([426, 426, 432], [43, 39, 39])
seg([448, 462], [41, 41])
seg([450, 450, 460, 460], [41, 53, 53, 41])
seg([452, 458], [39, 39])
seg([453.5, 453.5], [44, 50], lw=0.8)
seg([456.5, 456.5], [44, 50], lw=0.8)

# readout lines over the chart
line1 = [(0, '时间:2020-04-23 15:00'), (116, '开:2.5841'), (168, '高:2.5975'), (219, '低:2.5803'),
         (272, '收:2.5895'), (327, '涨幅:'), (428, '振幅:0.67%')]
for x, s in line1:
    txt(x, 71, s, '#c0c4d2', 7.9)
txt(352, 71, '0.18%(0.0047)', '#0aa87a', 7.9)

seg([10, 14, 18], [87, 91, 87], '#6d7388')
txt(28, 89, 'BOLL(20,2)', '#b5b9c8', 8.0)
txt(28, 107, 'MA', '#b5b9c8', 8.0)
for x, y in [(98, 89), (116, 89), (60, 107), (78, 107)]:
    rect(x - 6.5, y - 6.5, x + 6.5, y + 6.5, '#2b3148')
for x, y in [(98, 89), (60, 107)]:
    ui.add_patch(Circle((x, y), 3.2, fc='none', ec='#4b5268', lw=1.2, zorder=3))
for x, y in [(116, 89), (78, 107)]:
    seg([x - 4, x + 4], [y - 4, y + 4], '#4b5268', 1.2)
    seg([x - 4, x + 4], [y + 4, y - 4], '#4b5268', 1.2)
txt(129, 89, 'BOLL:2.6088', '#b5b9c8', 8.0)
txt(197, 89, 'UB:2.6466', UB_C, 8.0)
txt(253, 89, 'LB:2.5710', LB_C, 8.0)
ma_text = ['MA(5):2.6001', 'MA(10):2.6105', 'MA(20):2.6088', 'MA(60):2.5535', 'MA(120):2.6016', 'MA(240):2.5602']
ma_x = [91, 163, 242, 321, 400, 485]
for x, s, col in zip(ma_x, ma_text, MA_C):
    txt(x, 107, s, col, 8.0)

# live price and crosshair tags on the axis
rect(1251, 195, 1311, 215, '#0aa074')
seg([1244, 1250], [204.5, 204.5], '#ffffff', 1.0)
txt(1264, 204.5, f'{last_price:.4f}', '#ffffff', 9.2, fontweight='bold')
rect(1231, 366, 1311, 386, '#2f3540')
seg([1236, 1246], [376, 376], '#e6e8f0', 1.2)
seg([1241, 1241], [371, 381], '#e6e8f0', 1.2)
txt(1264, 375.5, f'{cross_price:.4f}', '#c0c4d2', 9.2)

fig.savefig('out.png', dpi=100, facecolor=BG)
